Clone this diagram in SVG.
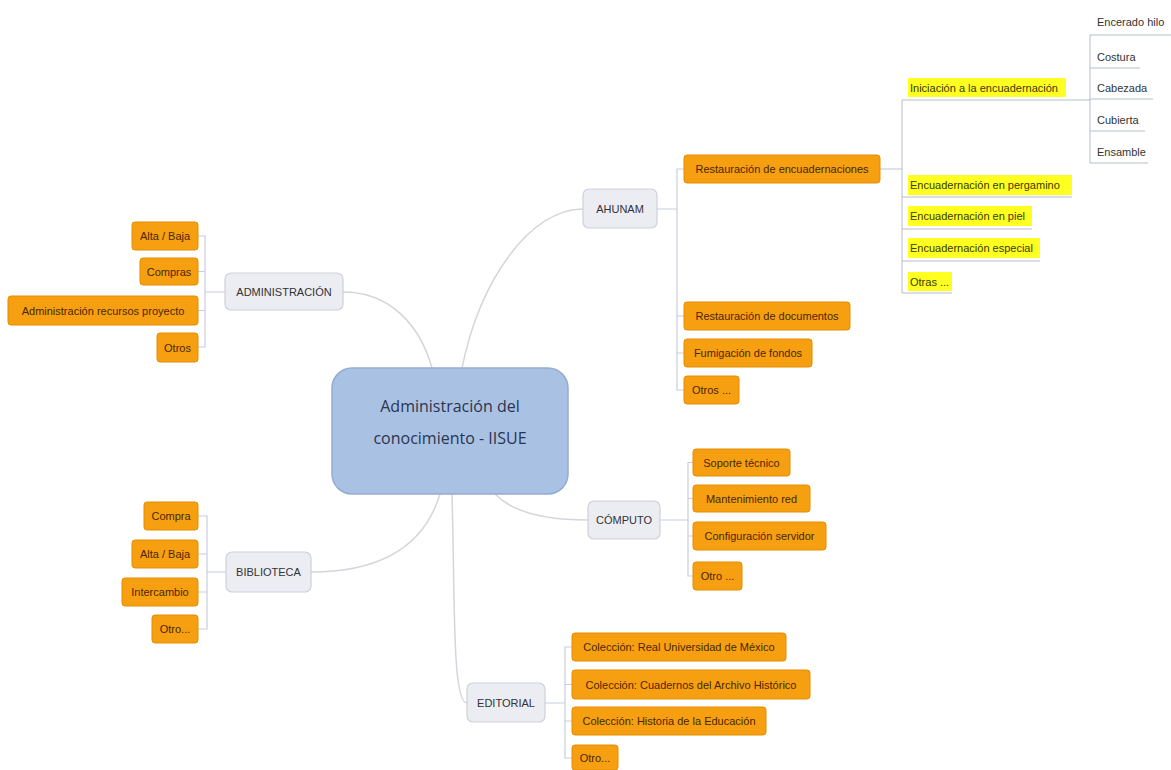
<svg xmlns="http://www.w3.org/2000/svg" width="1171" height="770" viewBox="0 0 1171 770">
<style>
.conn{fill:none;stroke:#d4d6de;stroke-width:1.5}
.br{fill:none;stroke:#c9cde0;stroke-width:1.2}
.ul{fill:none;stroke:#b9bdcc;stroke-width:1}
.org{fill:#f6a011;stroke:#e38d00;stroke-width:1}
.ot{font-family:"Liberation Sans",Arial,sans-serif;font-size:11px;fill:#4a2600;text-anchor:middle}
.gray{fill:#ececf3;stroke:#cfd0da;stroke-width:1.2}
.gt{font-family:"Liberation Sans",Arial,sans-serif;font-size:11px;fill:#333;text-anchor:middle}
.yel{fill:#ffff22}
.yt{font-family:"Liberation Sans",Arial,sans-serif;font-size:11px;fill:#3a3a00}
.st{font-family:"Liberation Sans",Arial,sans-serif;font-size:11px;fill:#333}
.ct{font-family:"Open Sans","Liberation Sans",sans-serif;font-size:16px;fill:#2b3550;text-anchor:middle}
</style>
<rect width="1171" height="770" fill="#ffffff"/>
<g id="connectors">
<path class="conn" d="M343 292 C390 292 420 325 432 368"/>
<path class="conn" d="M462 368 C480 280 530 209 583 209"/>
<path class="conn" d="M495 494 C515 515 555 520 588 520"/>
<path class="conn" d="M440 494 C420 560 360 572 311 572"/>
<path class="conn" d="M452 494 C455 600 452 703 467 703"/>
<path class="br" d="M198 236 H205 V347 H198 M198 271.5 H205 M198 310.5 H205 M205 292 H225"/>
<path class="br" d="M684 169 H677 V390 H684 M684 316 H677 M684 353 H677 M657 209 H677"/>
<path class="br" d="M693 462.5 H688 V576 H693 M693 498.5 H688 M693 536 H688 M660 520 H688"/>
<path class="br" d="M198 516 H207 V629 H198 M198 554 H207 M198 592 H207 M207 572 H226"/>
<path class="br" d="M572 647 H565 V758 H572 M572 684.5 H565 M572 721 H565 M545 703 H565"/>
<path class="br" d="M880 169 H902"/>
<path class="ul" d="M902 100 V293 M902 100 H1090 M902 197 H1072 M902 229 H1032 M902 261 H1040 M902 293 H952"/>
<path class="ul" d="M1090 35 V163 M1090 35 H1171 M1090 68 H1140 M1090 99 H1153 M1090 131 H1145 M1090 163 H1148"/>
</g>
<g id="central">
<rect x="332" y="368" width="236" height="126" rx="20" fill="#a9c1e3" stroke="#94acd2" stroke-width="1.5"/>
<text class="ct" x="450" y="412">Administración del</text>
<text class="ct" x="450" y="444">conocimiento - IISUE</text>
</g>
<g id="administracion">
<rect class="gray" x="225" y="273" width="118" height="37" rx="6"/>
<text class="gt" x="284" y="296">ADMINISTRACIÓN</text>
</g>
<g id="adm-alta"><rect class="org" x="132" y="222" width="66" height="28" rx="3"/><text class="ot" x="165" y="240">Alta / Baja</text></g>
<g id="adm-compras"><rect class="org" x="140" y="258" width="58" height="27" rx="3"/><text class="ot" x="169" y="275.5">Compras</text></g>
<g id="adm-recursos"><rect class="org" x="8" y="296" width="190" height="29" rx="3"/><text class="ot" x="103" y="314.5">Administración recursos proyecto</text></g>
<g id="adm-otros"><rect class="org" x="157" y="333" width="41" height="29" rx="3"/><text class="ot" x="177.5" y="351.5">Otros</text></g>
<g id="ahunam">
<rect class="gray" x="583" y="189" width="74" height="39" rx="6"/>
<text class="gt" x="620" y="213">AHUNAM</text>
</g>
<g id="ah-encuad"><rect class="org" x="684" y="155" width="196" height="28" rx="3"/><text class="ot" x="782" y="173">Restauración de encuadernaciones</text></g>
<g id="ah-docs"><rect class="org" x="684" y="302" width="166" height="28" rx="3"/><text class="ot" x="767" y="320">Restauración de documentos</text></g>
<g id="ah-fumig"><rect class="org" x="684" y="339" width="128" height="28" rx="3"/><text class="ot" x="748" y="357">Fumigación de fondos</text></g>
<g id="ah-otros"><rect class="org" x="684" y="376" width="55" height="28" rx="3"/><text class="ot" x="711.5" y="394">Otros ...</text></g>
<g id="y-iniciacion"><rect class="yel" x="908" y="78" width="158" height="19"/><text class="yt" x="910" y="92">Iniciación a la encuadernación</text></g>
<g id="y-pergamino"><rect class="yel" x="908" y="175" width="164" height="20"/><text class="yt" x="910" y="189">Encuadernación en pergamino</text></g>
<g id="y-piel"><rect class="yel" x="908" y="206" width="124" height="20"/><text class="yt" x="910" y="220">Encuadernación en piel</text></g>
<g id="y-especial"><rect class="yel" x="908" y="238" width="132" height="20"/><text class="yt" x="910" y="252">Encuadernación especial</text></g>
<g id="y-otras"><rect class="yel" x="908" y="272" width="44" height="19"/><text class="yt" x="910" y="286">Otras ...</text></g>
<g id="s-encerado"><text class="st" x="1097" y="26">Encerado hilo</text></g>
<g id="s-costura"><text class="st" x="1097" y="61">Costura</text></g>
<g id="s-cabezada"><text class="st" x="1097" y="92">Cabezada</text></g>
<g id="s-cubierta"><text class="st" x="1097" y="124">Cubierta</text></g>
<g id="s-ensamble"><text class="st" x="1097" y="156">Ensamble</text></g>
<g id="computo">
<rect class="gray" x="588" y="501" width="72" height="38" rx="6"/>
<text class="gt" x="624" y="524">CÓMPUTO</text>
</g>
<g id="c-soporte"><rect class="org" x="693" y="449" width="97" height="27" rx="3"/><text class="ot" x="741.5" y="466.5">Soporte técnico</text></g>
<g id="c-red"><rect class="org" x="693" y="485" width="117" height="27" rx="3"/><text class="ot" x="751.5" y="502.5">Mantenimiento red</text></g>
<g id="c-servidor"><rect class="org" x="693" y="522" width="133" height="28" rx="3"/><text class="ot" x="759.5" y="540">Configuración servidor</text></g>
<g id="c-otro"><rect class="org" x="693" y="562" width="49" height="28" rx="3"/><text class="ot" x="717.5" y="580">Otro ...</text></g>
<g id="biblioteca">
<rect class="gray" x="226" y="552" width="85" height="40" rx="6"/>
<text class="gt" x="268.5" y="576">BIBLIOTECA</text>
</g>
<g id="b-compra"><rect class="org" x="144" y="502" width="54" height="28" rx="3"/><text class="ot" x="171" y="520">Compra</text></g>
<g id="b-alta"><rect class="org" x="132" y="540" width="66" height="28" rx="3"/><text class="ot" x="165" y="558">Alta / Baja</text></g>
<g id="b-inter"><rect class="org" x="122" y="578" width="76" height="28" rx="3"/><text class="ot" x="160" y="596">Intercambio</text></g>
<g id="b-otro"><rect class="org" x="152" y="615" width="46" height="28" rx="3"/><text class="ot" x="175" y="633">Otro...</text></g>
<g id="editorial">
<rect class="gray" x="467" y="683" width="78" height="39" rx="6"/>
<text class="gt" x="506" y="707">EDITORIAL</text>
</g>
<g id="e-real"><rect class="org" x="572" y="633" width="214" height="28" rx="3"/><text class="ot" x="679" y="651">Colección: Real Universidad de México</text></g>
<g id="e-cuadernos"><rect class="org" x="572" y="670" width="238" height="29" rx="3"/><text class="ot" x="691" y="688.5">Colección: Cuadernos del Archivo Histórico</text></g>
<g id="e-historia"><rect class="org" x="572" y="707" width="194" height="28" rx="3"/><text class="ot" x="669" y="725">Colección: Historia de la Educación</text></g>
<g id="e-otro"><rect class="org" x="572" y="745" width="46" height="25" rx="3"/><text class="ot" x="595" y="762">Otro...</text></g>
</svg>
